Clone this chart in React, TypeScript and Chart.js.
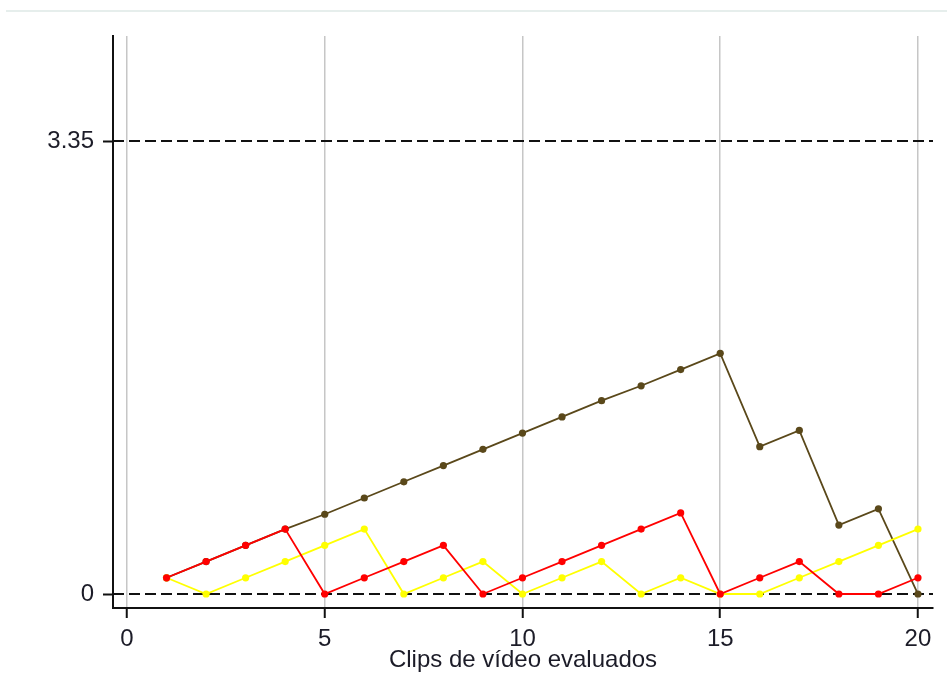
import React, { useEffect, useRef } from "react";
import { Chart, registerables } from "chart.js";

Chart.register(...registerables);

const clips = [1, 2, 3, 4, 5, 6, 7, 8, 9, 10, 11, 12, 13, 14, 15, 16, 17, 18, 19, 20];
const brownSeries = [0.12, 0.24, 0.36, 0.48, 0.59, 0.71, 0.83, 0.95, 1.07, 1.19, 1.31, 1.43, 1.54, 1.66, 1.78, 1.09, 1.21, 0.51, 0.63, 0];
const redSeries = [0.12, 0.24, 0.36, 0.48, 0, 0.12, 0.24, 0.36, 0, 0.12, 0.24, 0.36, 0.48, 0.6, 0, 0.12, 0.24, 0, 0, 0.12];
const yellowSeries = [0.12, 0, 0.12, 0.24, 0.36, 0.48, 0, 0.12, 0.24, 0, 0.12, 0.24, 0, 0.12, 0, 0, 0.12, 0.24, 0.36, 0.48];
const xTicks = [0, 5, 10, 15, 20];
const yTicks = [0, 3.35];
const yTickLabels = ["0", "3.35"];
const xTitle = "Clips de vídeo evaluados";

const FONT = "'Liberation Sans', Arial, sans-serif";

const refLines = {
  id: "refLines",
  beforeDatasetsDraw(chart: any) {
    const { ctx, chartArea } = chart;
    const y = chart.scales.y;
    ctx.save();
    ctx.strokeStyle = "#111";
    ctx.lineWidth = 2;
    ctx.setLineDash([11, 5]);
    yTicks.forEach((v) => {
      const py = Math.round(y.getPixelForValue(v));
      ctx.beginPath();
      ctx.moveTo(chartArea.left, py);
      ctx.lineTo(chartArea.right, py);
      ctx.stroke();
    });
    ctx.restore();
  },
  beforeDraw(chart: any) {
    const { ctx } = chart;
    ctx.save();
    ctx.fillStyle = "#fff";
    ctx.fillRect(0, 0, chart.width, chart.height);
    ctx.strokeStyle = "#e6eeec";
    ctx.lineWidth = 2;
    ctx.beginPath();
    ctx.moveTo(6, 11);
    ctx.lineTo(chart.width, 11);
    ctx.stroke();
    ctx.restore();
  },
};

export default function App() {
  const ref = useRef<HTMLCanvasElement>(null);
  useEffect(() => {
    if (!ref.current) return;
    const mk = (data: number[], color: string) => ({
      data: clips.map((c, i) => ({ x: c, y: data[i] })),
      borderColor: color,
      backgroundColor: color,
      borderWidth: 1.8,
      pointRadius: 3.6,
      pointBorderWidth: 0,
      pointHoverRadius: 3.6,
      tension: 0,
    });
    const chart = new Chart(ref.current, {
      type: "line",
      data: {
        datasets: [mk(redSeries, "#ff0000"), mk(yellowSeries, "#ffff00"), mk(brownSeries, "#5a481a")],
      },
      plugins: [refLines],
      options: {
        animation: false,
        responsive: false,
        devicePixelRatio: 1,
        layout: { padding: { top: 36, right: 14, left: 0, bottom: 0 } },
        plugins: { legend: { display: false }, tooltip: { enabled: false } },
        scales: {
          x: {
            type: "linear",
            min: -0.354,
            max: 20.38,
            afterBuildTicks: (s: any) => {
              s.ticks = xTicks.map((v) => ({ value: v }));
            },
            afterFit: (s: any) => {
              s.height = 88;
            },
            grid: {
              color: "#c6c6c6",
              lineWidth: 1.5,
              drawTicks: true,
              tickLength: 10,
              tickColor: "#111",
              tickWidth: 2,
            },
            border: { display: true, color: "#111", width: 2 },
            ticks: {
              color: "#1c1c28",
              font: { family: FONT, size: 24 },
              padding: 7,
              maxRotation: 0,
              callback: (v: any) => String(v),
            },
            title: {
              display: true,
              text: xTitle,
              color: "#1c1c28",
              font: { family: FONT, size: 24 },
              padding: { top: 0, bottom: 21 },
            },
          },
          y: {
            type: "linear",
            min: -0.1035,
            max: 4.127,
            afterBuildTicks: (s: any) => {
              s.ticks = yTicks.map((v) => ({ value: v }));
            },
            afterFit: (s: any) => {
              s.width = 113;
            },
            grid: {
              drawOnChartArea: false,
              drawTicks: true,
              tickLength: 10,
              tickColor: "#111",
              tickWidth: 2,
            },
            border: { display: true, color: "#111", width: 2 },
            ticks: {
              color: "#1c1c28",
              font: { family: FONT, size: 24 },
              padding: 9,
              callback: (v: any) => {
                const i = yTicks.indexOf(v);
                return i >= 0 ? yTickLabels[i] : "";
              },
            },
          },
        },
      },
    });
    return () => chart.destroy();
  }, []);
  return (
    <div style={{ position: "fixed", left: 0, top: 0, width: 947, height: 696, background: "#fff" }}>
      <canvas ref={ref} width={947} height={696} style={{ display: "block", width: 947, height: 696 }} />
    </div>
  );
}
